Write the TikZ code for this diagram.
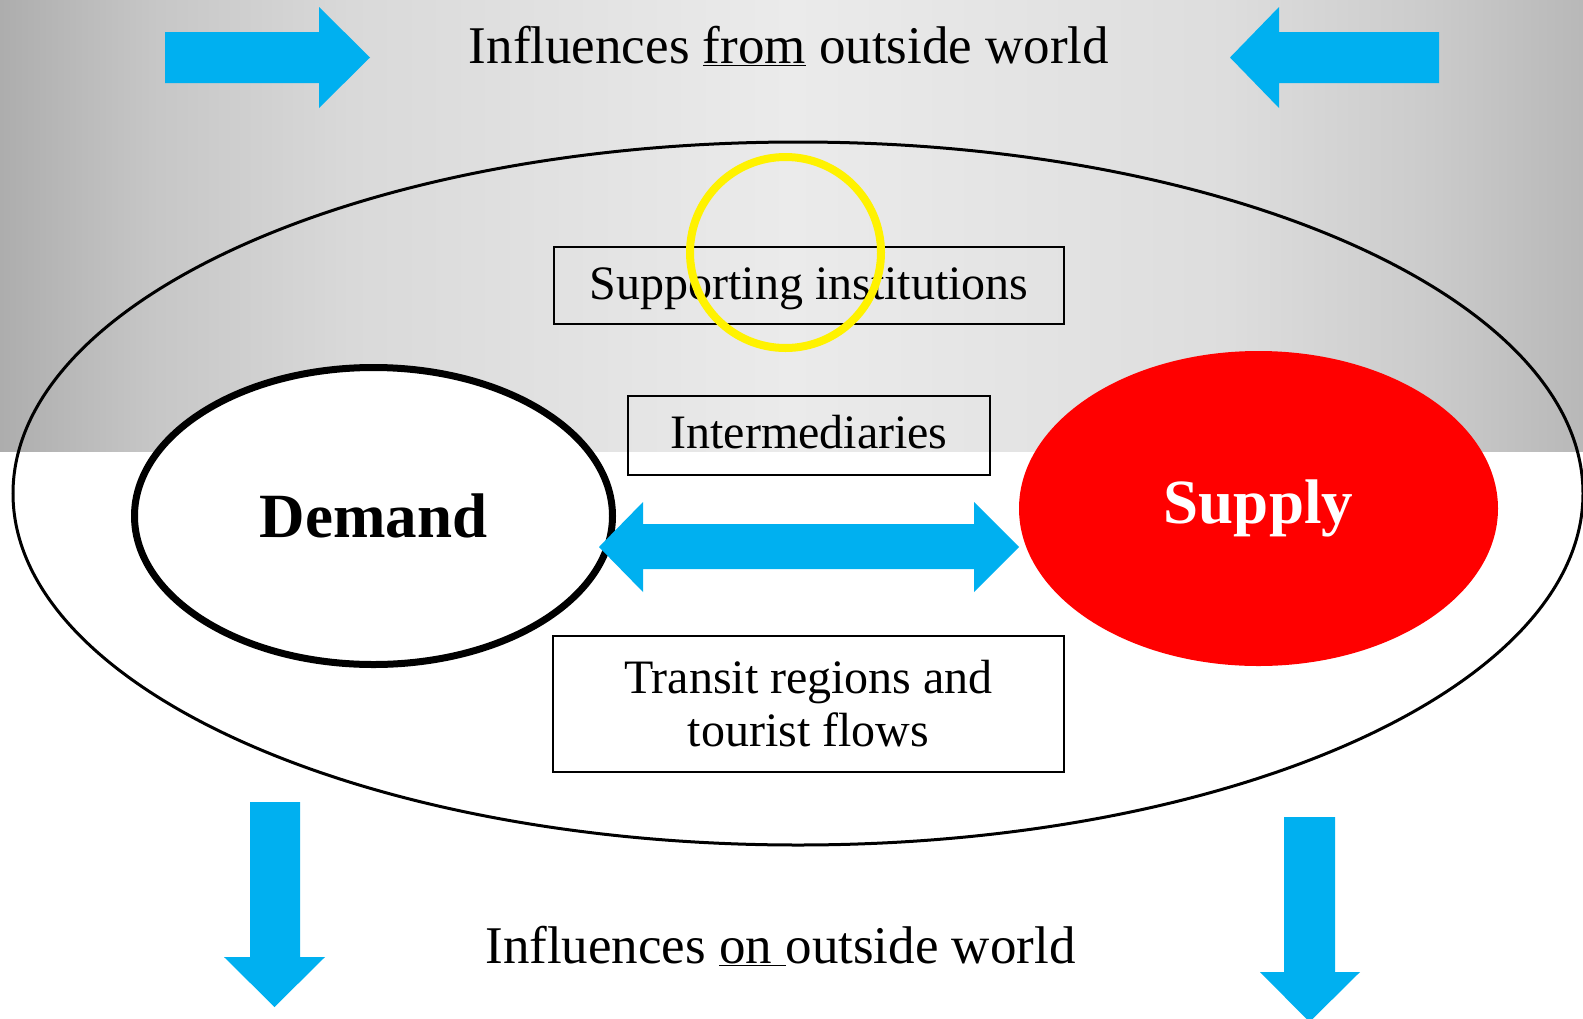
\documentclass[tikz,border=0pt]{standalone}
\usepackage{fontspec}
\setmainfont{Liberation Serif}
\usetikzlibrary{shapes.geometric}

\definecolor{flowblue}{HTML}{00B0F0}
\definecolor{gA}{HTML}{ADADAD}
\definecolor{gB}{HTML}{C6C6C6}
\definecolor{gC}{HTML}{D9D9D9}
\definecolor{gD}{HTML}{EBEBEB}
\definecolor{gE}{HTML}{DDDDDD}
\definecolor{gF}{HTML}{CBCBCB}
\definecolor{gG}{HTML}{B8B8B8}

\begin{document}
\begin{tikzpicture}[x=1pt, y=-1pt,
  box/.style={draw=black, line width=2pt, inner sep=0pt},
  blockarrow/.style={fill=flowblue, draw=none},
  bigfont/.style={font=\fontsize{53}{63}\selectfont},
  midfont/.style={font=\fontsize{48}{53}\selectfont},
  boldfont/.style={font=\fontsize{63}{70}\selectfont\bfseries}]

\useasboundingbox (0,0) rectangle (1583,1018);
\fill[white] (0,0) rectangle (1583,1018);

% grey backdrop behind the upper half
\shade[left color=gA, right color=gB] (0,0) rectangle (151,451);
\shade[left color=gB, right color=gC] (150,0) rectangle (351,451);
\shade[left color=gC, right color=gD] (350,0) rectangle (791,451);
\shade[left color=gD, right color=gE] (790,0) rectangle (1231,451);
\shade[left color=gE, right color=gF] (1230,0) rectangle (1431,451);
\shade[left color=gF, right color=gG] (1430,0) rectangle (1583,451);

% titles
\node[bigfont, anchor=base] (fromtitle) at (789,63) {Influences \underline{from} outside world};
\node[bigfont, anchor=base] (ontitle) at (780.5,963) {Influences \underline{on\ }outside world};

% arrows coming in from outside
\fill[blockarrow] (165,32) -- (319,32) -- (319,7) -- (370,57.5) -- (319,108) -- (319,83) -- (165,83) -- cycle;
\fill[blockarrow] (1439,32) -- (1279,32) -- (1279,7) -- (1230,57.5) -- (1279,108) -- (1279,83) -- (1439,83) -- cycle;

% arrows going out to the world
\fill[blockarrow] (250,802) -- (300,802) -- (300,957) -- (325,957) -- (274.5,1007) -- (224,957) -- (250,957) -- cycle;
\fill[blockarrow] (1284,817) -- (1335,817) -- (1335,972) -- (1360,972) -- (1309.5,1022) -- (1260,972) -- (1284,972) -- cycle;

% the tourism system
\node[ellipse, draw=black, line width=3pt, minimum width=1570, minimum height=703, inner sep=0pt] (system) at (798,493.5) {};

\node[box, midfont, minimum width=510, minimum height=77, text height=35, text depth=8] (inst) at (809,285.5) {Supporting institutions};
\node[circle, draw=yellow, line width=8pt, minimum size=191, inner sep=0pt] (ring) at (785.5,252.5) {};

\node[box, midfont, minimum width=362, minimum height=79, text height=33, text depth=8] (inter) at (809,435.5) {Intermediaries};
\node[box, midfont, align=center, minimum width=511, minimum height=136] (transit) at (808.5,704) {Transit regions and\\tourist flows};

\node[ellipse, draw=black, line width=7pt, fill=white, minimum width=478, minimum height=297, inner sep=0pt, boldfont] (demand) at (373.5,516) {Demand};
\node[ellipse, fill=red, minimum width=479, minimum height=315, inner sep=0pt, boldfont, text=white] (supply) at (1258.5,508.5) {Supply};

% exchange between demand and supply
\fill[blockarrow] (599,547) -- (643,502) -- (643,524) -- (974,524) -- (974,502) -- (1019,547) -- (974,592) -- (974,569) -- (643,569) -- (643,592) -- cycle;

\end{tikzpicture}
\end{document}
